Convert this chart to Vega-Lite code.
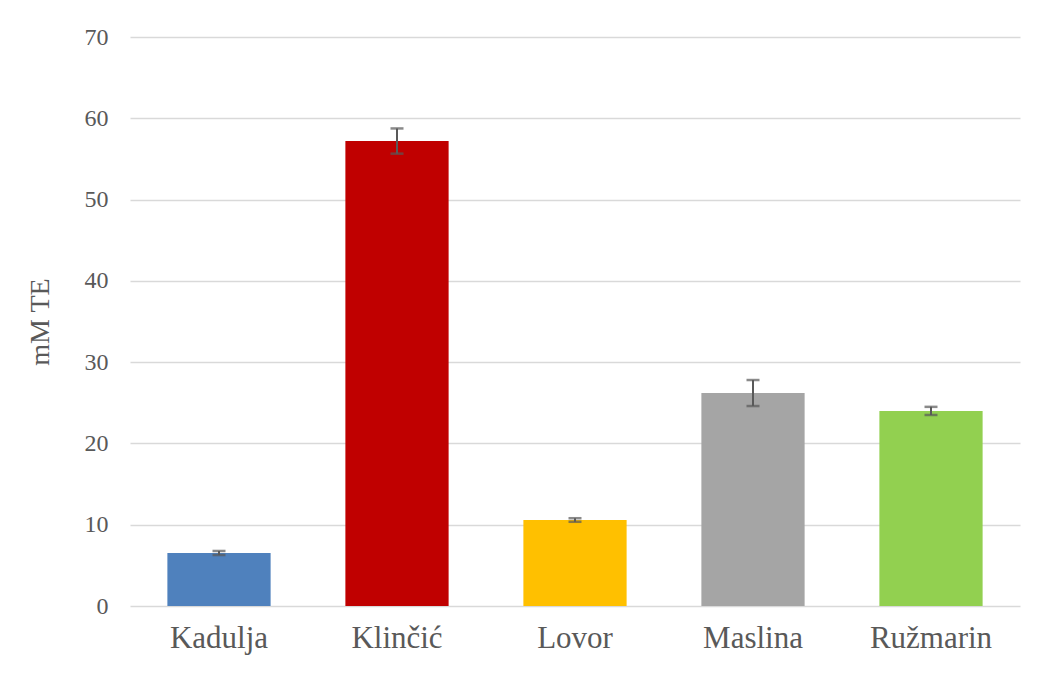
{
  "$schema": "https://vega.github.io/schema/vega-lite/v6.json",
  "autosize": {"type": "none"},
  "width": 890,
  "height": 569,
  "padding": {"left": 130, "top": 37, "right": 20, "bottom": 69},
  "background": "white",
  "data": {
    "values": [
      {"plant": "Kadulja", "value": 6.52, "err": 0.25, "color": "#4F81BD"},
      {"plant": "Klinčić", "value": 57.2, "err": 1.55, "color": "#C00000"},
      {"plant": "Lovor", "value": 10.58, "err": 0.22, "color": "#FFC000"},
      {"plant": "Maslina", "value": 26.2, "err": 1.6, "color": "#A5A5A5"},
      {"plant": "Ružmarin", "value": 24.0, "err": 0.5, "color": "#92D050"}
    ]
  },
  "encoding": {
    "x": {
      "field": "plant",
      "type": "nominal",
      "sort": null,
      "scale": {"paddingInner": 0.42, "paddingOuter": 0.21},
      "axis": {
        "title": null,
        "labelAngle": 0,
        "labelFont": "Liberation Serif",
        "labelFontSize": 31,
        "labelColor": "#595959",
        "labelPadding": 17,
        "ticks": false,
        "domain": false,
        "grid": false
      }
    }
  },
  "layer": [
    {
      "mark": {"type": "bar"},
      "encoding": {
        "y": {
          "field": "value",
          "type": "quantitative",
          "title": "mM TE",
          "scale": {"domain": [0, 70]},
          "axis": {
            "titleFont": "Liberation Serif",
            "titleFontSize": 28,
            "titleFontWeight": "normal",
            "titleColor": "#595959",
            "titlePadding": 30,
            "values": [0, 10, 20, 30, 40, 50, 60, 70],
            "labelFont": "Liberation Serif",
            "labelFontSize": 24,
            "labelColor": "#595959",
            "labelPadding": 22,
            "ticks": false,
            "domain": false,
            "gridColor": "#d9d9d9",
            "gridWidth": 1.5
          }
        },
        "color": {"field": "color", "type": "nominal", "scale": null, "legend": null}
      }
    },
    {
      "mark": {
        "type": "errorbar",
        "color": "#595959",
        "thickness": 2,
        "ticks": {"size": 13, "thickness": 2.5, "color": "#595959"}
      },
      "encoding": {
        "y": {"field": "value", "type": "quantitative", "title": "mM TE"},
        "yError": {"field": "err"}
      }
    }
  ],
  "config": {
    "view": {"stroke": null}
  }
}
